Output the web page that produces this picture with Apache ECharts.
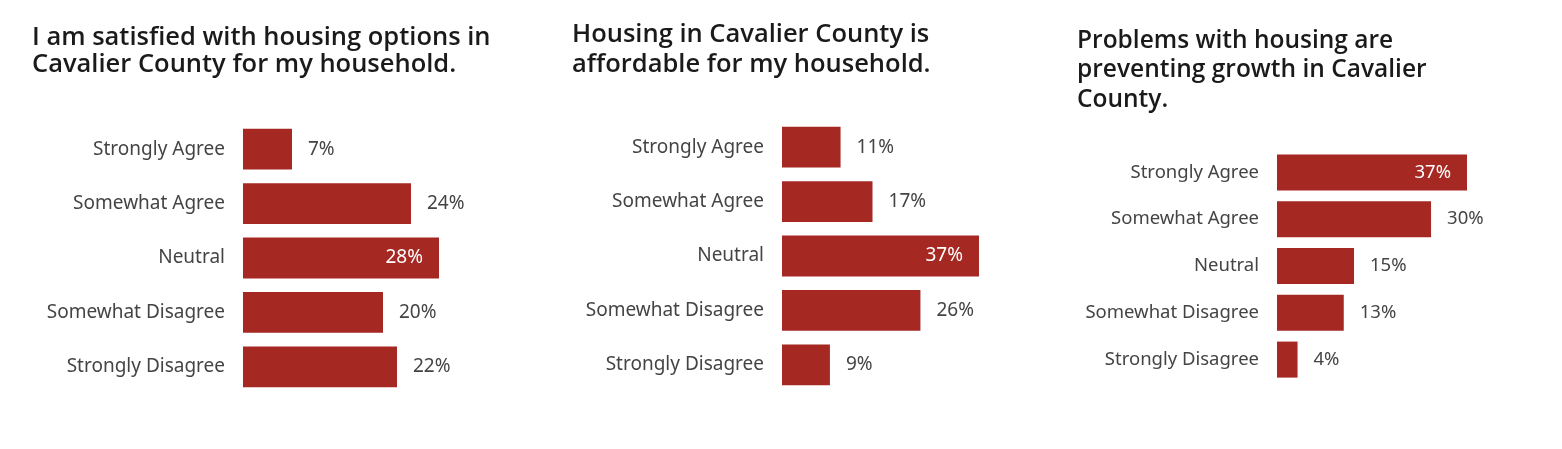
<!DOCTYPE html>
<html>
<head>
    <meta charset="utf-8">
    <title>Cavalier County housing survey</title>
    <script type="text/javascript" src="https://cdn.jsdelivr.net/npm/echarts@6/dist/echarts.min.js"></script>
    <style>
        html, body { margin: 0; padding: 0; background: #fff; }
    </style>
</head>
<body>
    <div id="main" style="width: 1562px;height:449px;"></div>
    <script type="text/javascript">
        // answer categories, top to bottom
        var categories = ['Strongly Agree', 'Somewhat Agree', 'Neutral', 'Somewhat Disagree', 'Strongly Disagree'];
        // percent of respondents
        var satisfied = [7, 24, 28, 20, 22];
        var affordable = [11, 17, 37, 26, 9];
        var growth = [37, 30, 15, 13, 4];

        var titles = [
            'I am satisfied with housing options in\nCavalier County for my household.',
            'Housing in Cavalier County is\naffordable for my household.',
            'Problems with housing are\npreventing growth in Cavalier\nCounty.'
        ];

        var barColor = '#a52823';
        var textColor = '#444444';

        var myChart = echarts.init(document.getElementById('main'));

        // biggest bar gets its label inside, in white
        function withLabels(values) {
            var max = Math.max.apply(null, values);
            return values.map(function (v) {
                if (v === max) {
                    return { value: v, label: { position: 'insideRight', color: '#fff', distance: 16 } };
                }
                return v;
            });
        }

        var grids = [
            { left: 243, top: 122, width: 196, height: 272, gap: '25%', max: 28, size: 19 },
            { left: 782, top: 120, width: 197, height: 272, gap: '25%', max: 37, size: 19 },
            { left: 1277, top: 149, width: 190, height: 234, gap: '23%', max: 37, size: 18.5 }
        ];
        var seriesData = [satisfied, affordable, growth];
        var titleBoxes = [
            { left: 32, top: 24, size: 25.5, lh: 27 },
            { left: 572, top: 20, size: 25.5, lh: 30 },
            { left: 1077, top: 26, size: 24.5, lh: 29.5 }
        ];

        var option = {
            animation: false,
            backgroundColor: '#fff',
            title: titles.map(function (t, i) {
                var b = titleBoxes[i];
                return {
                    text: t,
                    left: b.left,
                    top: b.top,
                    padding: 0,
                    textStyle: {
                        fontFamily: 'Open Sans',
                        fontWeight: 600,
                        fontSize: b.size,
                        lineHeight: b.lh,
                        color: '#1a1a1a'
                    }
                };
            }),
            grid: grids.map(function (g) {
                return { left: g.left, top: g.top, width: g.width, height: g.height, containLabel: false };
            }),
            xAxis: grids.map(function (g, i) {
                return { type: 'value', gridIndex: i, min: 0, max: g.max, show: false };
            }),
            yAxis: grids.map(function (g, i) {
                return {
                    type: 'category',
                    gridIndex: i,
                    data: categories,
                    inverse: true,
                    axisLine: { show: false },
                    axisTick: { show: false },
                    axisLabel: {
                        margin: 18,
                        color: textColor,
                        fontFamily: 'Noto Sans',
                        fontSize: g.size
                    }
                };
            }),
            series: seriesData.map(function (d, i) {
                return {
                    type: 'bar',
                    xAxisIndex: i,
                    yAxisIndex: i,
                    barCategoryGap: grids[i].gap,
                    data: withLabels(d),
                    itemStyle: { color: barColor },
                    label: {
                        show: true,
                        position: 'right',
                        distance: 16,
                        formatter: '{c}%',
                        color: textColor,
                        fontFamily: 'Noto Sans',
                        fontSize: grids[i].size
                    }
                };
            })
        };

        myChart.setOption(option);
    </script>
</body>
</html>
